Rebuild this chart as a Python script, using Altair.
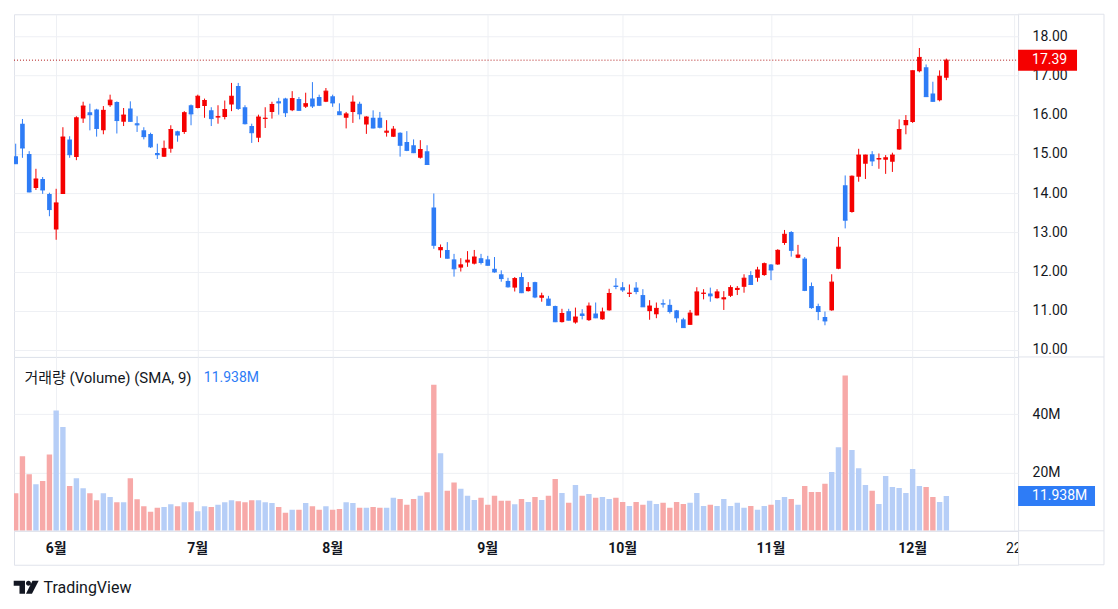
import altair as alt
import pandas as pd

# ---------------- data ----------------
open_ = [14.94, 15.77, 15.00, 14.13, 14.36, 13.98, 13.07, 13.98, 15.37, 14.92,
         15.90, 16.06, 16.13, 15.60, 16.24, 16.32, 15.82, 16.16, 15.78, 15.60,
         15.51, 15.02, 14.93, 15.13, 15.58, 15.56, 16.24, 16.17, 16.22, 16.11,
         15.93, 15.94, 16.26, 16.73, 16.19, 15.71, 15.41, 15.89, 16.07, 16.34,
         16.41, 16.11, 16.40, 16.20, 16.41, 16.45, 16.33, 16.47, 16.09, 15.92,
         16.07, 16.28, 15.75, 15.92, 15.92, 15.54, 15.44, 15.54, 15.30, 15.22,
         14.90, 15.07, 13.63, 12.54, 12.55, 12.31, 12.10, 12.23, 12.20, 12.34,
         12.31, 12.07, 11.93, 11.76, 11.59, 11.86, 11.50, 11.73, 11.33, 11.31,
         11.12, 10.71, 10.99, 10.70, 10.93, 10.76, 10.93, 10.78, 11.01, 11.64,
         11.60, 11.43, 11.59, 11.40, 10.99, 10.91, 11.19, 11.15, 11.01, 10.78,
         10.64, 10.88, 11.43, 11.44, 11.32, 11.29, 11.38, 11.53, 11.61, 11.91,
         11.84, 11.91, 12.18, 12.18, 12.73, 13.01, 12.35, 12.33, 11.63, 11.12,
         10.84, 11.01, 12.07, 14.20, 13.52, 14.42, 14.75, 14.99, 14.86, 14.85,
         14.80, 15.11, 15.73, 15.81, 17.11, 17.21, 16.54, 16.37, 16.94]
high = [15.26, 15.89, 15.07, 14.62, 14.41, 14.01, 14.11, 15.68, 15.45, 15.96,
        16.33, 16.28, 16.15, 16.22, 16.51, 16.34, 16.17, 16.34, 15.96, 15.68,
        15.54, 15.26, 15.34, 15.73, 15.59, 16.09, 16.26, 16.51, 16.41, 16.19,
        16.24, 16.36, 16.81, 16.81, 16.24, 15.77, 16.00, 16.19, 16.33, 16.43,
        16.43, 16.60, 16.45, 16.56, 16.83, 16.51, 16.68, 16.51, 16.29, 16.07,
        16.49, 16.33, 15.96, 16.11, 16.07, 15.86, 15.71, 15.55, 15.58, 15.37,
        15.35, 15.22, 13.99, 12.69, 12.75, 12.45, 12.34, 12.52, 12.55, 12.45,
        12.40, 12.37, 12.03, 11.84, 11.86, 11.97, 11.73, 11.74, 11.46, 11.38,
        11.13, 11.05, 11.05, 11.08, 11.04, 11.21, 11.21, 11.08, 11.56, 11.83,
        11.73, 11.67, 11.73, 11.55, 11.27, 11.21, 11.29, 11.29, 11.02, 10.82,
        11.02, 11.60, 11.55, 11.59, 11.55, 11.50, 11.65, 11.63, 11.93, 12.01,
        12.12, 12.23, 12.19, 12.57, 13.06, 13.03, 12.68, 12.37, 11.72, 11.18,
        10.98, 11.93, 12.88, 14.45, 14.45, 15.13, 14.98, 15.07, 15.01, 14.97,
        15.03, 15.88, 15.99, 17.13, 17.70, 17.28, 16.84, 17.13, 17.43]
low = [14.74, 14.90, 14.02, 14.08, 13.98, 13.41, 12.81, 13.98, 14.90, 14.84,
       15.79, 15.60, 15.44, 15.50, 16.20, 15.52, 15.71, 15.82, 15.56, 15.37,
       15.15, 14.87, 14.92, 15.03, 15.31, 15.51, 15.73, 16.16, 15.92, 15.71,
       15.77, 15.88, 16.09, 16.12, 15.75, 15.28, 15.30, 15.66, 15.90, 16.00,
       15.94, 16.09, 16.10, 16.17, 16.17, 16.22, 16.32, 16.20, 15.99, 15.65,
       15.79, 15.88, 15.51, 15.65, 15.65, 15.44, 15.43, 14.93, 15.07, 15.02,
       14.88, 14.72, 12.58, 12.35, 12.33, 11.87, 12.00, 12.12, 12.18, 12.18,
       12.15, 11.97, 11.74, 11.59, 11.49, 11.45, 11.49, 11.32, 11.23, 11.13,
       10.71, 10.70, 10.75, 10.67, 10.78, 10.74, 10.81, 10.77, 11.00, 11.55,
       11.48, 11.35, 11.42, 11.10, 10.77, 10.81, 11.08, 10.93, 10.70, 10.57,
       10.64, 10.88, 11.29, 11.23, 11.31, 11.02, 11.35, 11.40, 11.46, 11.66,
       11.74, 11.89, 11.78, 12.17, 12.68, 12.38, 12.34, 11.50, 11.05, 10.76,
       10.63, 11.00, 12.06, 13.10, 13.50, 14.29, 14.36, 14.69, 14.62, 14.49,
       14.54, 15.10, 15.50, 15.79, 17.08, 16.45, 16.33, 16.34, 16.88]
close = [14.75, 15.15, 14.03, 14.36, 14.08, 13.58, 13.75, 15.43, 14.98, 15.92,
         16.22, 16.00, 15.65, 16.11, 16.37, 15.85, 15.99, 15.83, 15.74, 15.44,
         15.18, 14.98, 15.14, 15.62, 15.48, 16.05, 16.02, 16.47, 16.36, 15.90,
         15.95, 16.13, 16.47, 16.16, 15.77, 15.54, 15.94, 15.91, 16.26, 16.30,
         16.05, 16.41, 16.11, 16.28, 16.22, 16.24, 16.60, 16.30, 16.00, 16.02,
         16.32, 16.02, 15.94, 15.66, 15.68, 15.58, 15.63, 15.22, 15.09, 15.03,
         15.11, 14.73, 12.67, 12.61, 12.34, 12.07, 12.17, 12.29, 12.37, 12.23,
         12.16, 11.99, 11.82, 11.61, 11.82, 11.46, 11.59, 11.35, 11.38, 11.14,
         10.72, 10.93, 10.76, 10.84, 10.88, 11.12, 10.82, 10.97, 11.44, 11.62,
         11.53, 11.45, 11.49, 11.10, 11.12, 11.06, 11.17, 10.98, 10.82, 10.57,
         10.94, 11.48, 11.45, 11.38, 11.48, 11.33, 11.59, 11.57, 11.83, 11.67,
         12.04, 12.20, 12.04, 12.54, 12.95, 12.54, 12.42, 11.52, 11.08, 10.98,
         10.74, 11.73, 12.62, 13.31, 14.43, 14.97, 14.97, 14.82, 14.88, 14.90,
         14.97, 15.62, 15.85, 17.12, 17.46, 16.46, 16.34, 16.98, 17.39]
volume = [12.9, 25.6, 19.4, 16.0, 17.1, 26.2, 41.3, 35.6, 15.4, 18.0,
          14.6, 12.9, 10.5, 12.9, 11.6, 9.8, 9.8, 18.0, 10.8, 8.4,
          6.5, 7.9, 8.2, 9.1, 8.4, 9.8, 9.8, 6.7, 8.4, 8.2,
          8.9, 9.8, 10.5, 10.1, 9.8, 10.5, 10.5, 9.8, 9.5, 8.2,
          6.2, 7.2, 7.2, 9.5, 8.4, 7.2, 8.4, 7.2, 7.5, 9.8,
          9.5, 7.9, 7.9, 8.2, 7.9, 7.9, 11.3, 10.9, 8.9, 10.9,
          12.0, 13.2, 50.1, 26.6, 13.7, 16.6, 14.4, 12.0, 10.6, 11.3,
          8.9, 12.0, 10.3, 10.3, 9.1, 10.9, 9.9, 11.6, 10.6, 12.0,
          17.8, 13.0, 9.6, 15.7, 12.0, 12.6, 11.3, 11.6, 10.9, 11.3,
          9.9, 8.5, 9.9, 8.9, 10.3, 9.2, 9.6, 7.9, 9.9, 9.2,
          9.6, 13.0, 8.5, 8.9, 8.5, 10.9, 8.5, 9.6, 7.9, 8.5,
          7.2, 8.5, 8.9, 10.6, 11.6, 10.9, 8.9, 15.4, 13.3, 13.3,
          16.1, 20.2, 28.7, 53.3, 27.7, 21.5, 15.7, 13.7, 9.2, 18.8,
          15.0, 14.7, 13.0, 21.2, 15.4, 15.0, 11.6, 9.9, 11.938]
tick_idx = [7, 28, 48, 71, 91, 113, 134, 149]
tick_labels = ["6월", "7월", "8월", "9월", "10월", "11월", "12월", "22"]
price_ticks = [10, 11, 12, 13, 14, 15, 16, 17, 18]
vol_ticks = [20, 40]
legend_text = "거래량 (Volume) (SMA, 9)"

# ---------------- styling ----------------
RED = "#f50000"
BLUE = "#2e7cf6"
LRED = "#f7a9a8"
LBLUE = "#b6cef7"
GRID = "#eef0f4"
BORDER = "#e0e3eb"
TXT = "#131722"
FONT = "Roboto"
MIXFONT = "Roboto, Noto Sans CJK KR"

W = 1005
H_PRICE = 343
H_VOL = 174
H_TIME = 34
RIGHT = 1091  # outer right border in plot coords
XDOM = [0.748, 149.637]
PDOM = [9.8217, 18.5605]
VDOM = [0, 59.64]

df = pd.DataFrame({
    "n": list(range(1, len(close) + 1)),
    "open": open_, "high": high, "low": low, "close": close, "vol": volume,
})

xs = alt.Scale(domain=XDOM, nice=False, zero=False, padding=0)
ps = alt.Scale(domain=PDOM, nice=False, zero=False, padding=0)
vs = alt.Scale(domain=VDOM, nice=False, padding=0)

x_grid = alt.X("n:Q", scale=xs, title=None,
               axis=alt.Axis(values=tick_idx, grid=True, gridColor=GRID, gridWidth=1,
                             labels=False, ticks=False, domain=False, title=None))
p_axis = alt.Axis(orient="right", values=price_ticks, format=".2f", grid=True,
                  gridColor=GRID, ticks=False, domain=False, labelPadding=14, title=None)
v_axis = alt.Axis(orient="right", values=vol_ticks, labelExpr="datum.value + 'M'",
                  grid=True, gridColor=GRID, ticks=False, domain=False,
                  labelPadding=14, title=None)

is_up = "datum.close >= datum.open"
ccol = alt.condition(is_up, alt.value(RED), alt.value(BLUE))
vcol = alt.condition(is_up, alt.value(LBLUE), alt.value(LRED))

one = pd.DataFrame({"a": [0]})


def frame_rules(h, top=False):
    layers = []
    layers.append(alt.Chart(one).mark_rule(color=BORDER, strokeWidth=1).encode(
        x=alt.value(RIGHT), y=alt.value(0), y2=alt.value(h)))
    layers.append(alt.Chart(one).mark_rule(color=BORDER, strokeWidth=1).encode(
        x=alt.value(W), x2=alt.value(RIGHT), y=alt.value(h)))
    if top:
        layers.append(alt.Chart(one).mark_rule(color=BORDER, strokeWidth=1).encode(
            x=alt.value(W), x2=alt.value(RIGHT), y=alt.value(0)))
    return layers


# ---------------- price pane ----------------
base = alt.Chart(df).encode(x=x_grid)
wicks = base.mark_rule(strokeWidth=1, clip=True).encode(
    y=alt.Y("low:Q", scale=ps, axis=p_axis), y2=alt.Y2("high"), color=ccol)
bodies = base.mark_bar(size=4.6, clip=True).encode(
    y=alt.Y("open:Q", scale=ps, axis=p_axis), y2=alt.Y2("close"), color=ccol)
closes = base.mark_rule(strokeWidth=1, clip=True, xOffset=-2.3, x2Offset=2.3).encode(
    x2=alt.X2("n"), y=alt.Y("close:Q", scale=ps, axis=p_axis), color=ccol)

last_df = pd.DataFrame({"p": [close[-1]], "lbl": [f"{close[-1]:.2f}"]})
pline = alt.Chart(last_df).mark_rule(color="#b01818", strokeDash=[1, 2], strokeWidth=1).encode(
    x=alt.value(0), x2=alt.value(W), y=alt.Y("p:Q", scale=ps, axis=p_axis))
pbox = alt.Chart(last_df).mark_rect(color=RED, yOffset=-10.5, y2Offset=10.5).encode(
    x=alt.value(W), x2=alt.value(W + 59), y=alt.Y("p:Q", scale=ps, axis=p_axis), y2=alt.Y2("p"))
ptext = alt.Chart(last_df).mark_text(align="left", baseline="middle", color="white",
                                     font=FONT, fontSize=14).encode(
    x=alt.value(W + 14), y=alt.Y("p:Q", scale=ps, axis=p_axis), text="lbl:N")

price = alt.layer(wicks, bodies, closes, pline, pbox, ptext,
                  *frame_rules(H_PRICE, top=True)).properties(width=W, height=H_PRICE)

# ---------------- volume pane ----------------
vbars = alt.Chart(df).mark_bar(size=5.4, clip=True).encode(
    x=x_grid, y=alt.Y("vol:Q", scale=vs, axis=v_axis), color=vcol)
vleg = alt.Chart(pd.DataFrame({"t": [legend_text]})).mark_text(
    align="left", baseline="middle", font=MIXFONT, fontSize=15, color=TXT).encode(
    x=alt.value(10.5), y=alt.value(21), text="t:N")
vlast_df = pd.DataFrame({"v": [volume[-1]], "lbl": [f"{volume[-1]:.3f}M"]})
vval = alt.Chart(vlast_df).mark_text(
    align="left", baseline="middle", font=FONT, fontSize=14, color=BLUE).encode(
    x=alt.value(190), y=alt.value(21), text="lbl:N")
vbox = alt.Chart(vlast_df).mark_rect(color=BLUE, yOffset=-10, y2Offset=10).encode(
    x=alt.value(W), x2=alt.value(W + 77), y=alt.Y("v:Q", scale=vs, axis=v_axis), y2=alt.Y2("v"))
vtext = alt.Chart(vlast_df).mark_text(align="left", baseline="middle", color="white",
                                      font=FONT, fontSize=14).encode(
    x=alt.value(W + 14), y=alt.Y("v:Q", scale=vs, axis=v_axis), text="lbl:N")

vol = alt.layer(vbars, vleg, vval, vbox, vtext,
                *frame_rules(H_VOL)).properties(width=W, height=H_VOL)

# ---------------- time axis pane ----------------
tdf = pd.DataFrame({"n": tick_idx, "lbl": tick_labels})
tx = alt.X("n:Q", scale=xs, axis=None)
months = alt.Chart(tdf).transform_filter("indexof(datum.lbl, '월') >= 0").mark_text(
    font=MIXFONT, fontSize=14, fontWeight="bold", color=TXT, baseline="middle", clip=True).encode(
    x=tx, y=alt.value(18), text="lbl:N")
days = alt.Chart(tdf).transform_filter("indexof(datum.lbl, '월') < 0").mark_text(
    font=FONT, fontSize=14, color=TXT, baseline="middle", clip=True).encode(
    x=tx, y=alt.value(18), text="lbl:N")

LOGO = ("M-1,-0.52L-0.096,-0.52L-0.096,0.52L-0.536,0.52L-0.536,-0.12L-1,-0.12Z"
        "M0.504,-0.52L1,-0.52L0.464,0.52L-0.016,0.52Z"
        "M-0.016,-0.32A0.2,0.2,0,1,0,0.384,-0.32A0.2,0.2,0,1,0,-0.016,-0.32Z")
logo = alt.Chart(one).mark_point(shape=LOGO, size=625, filled=True, opacity=1,
                                 color=TXT, strokeWidth=0).encode(
    x=alt.value(12.2), y=alt.value(56.5))
brand = alt.Chart(pd.DataFrame({"t": ["TradingView"]})).mark_text(
    align="left", baseline="middle", font=FONT, fontSize=16, color=TXT).encode(
    x=alt.value(29.5), y=alt.value(57), text="t:N")

timeax = alt.layer(months, days, logo, brand,
                   *frame_rules(H_TIME)).properties(width=W, height=H_TIME)

chart = alt.vconcat(price, vol, timeax, spacing=0, bounds="flush").properties(
    background="white", padding={"left": 5, "top": 5, "right": 5, "bottom": 5}
).configure_view(stroke=BORDER, strokeWidth=1).configure_axis(
    labelFont=FONT, labelFontSize=14, labelColor=TXT)

chart.save("out.html", embed_options={"renderer": "svg", "actions": False})
